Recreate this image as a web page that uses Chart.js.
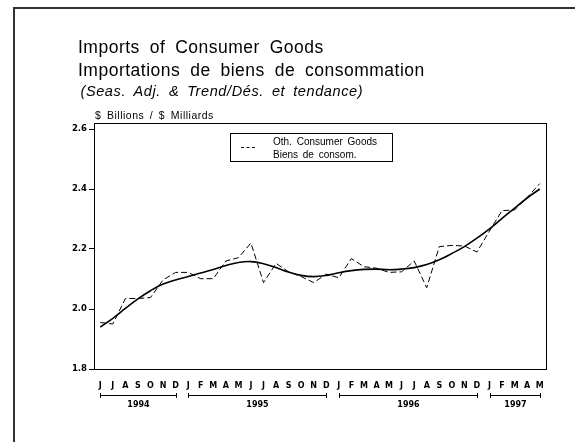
<!DOCTYPE html>
<html>
<head>
<meta charset="utf-8">
<script src="https://cdn.jsdelivr.net/npm/chart.js@4.4.1/dist/chart.umd.min.js"></script>
<style>
  html, body { margin: 0; padding: 0; background: #fff; }
  #wrap { position: relative; width: 575px; height: 442px; overflow: hidden; font-family: "Liberation Sans", Arial, sans-serif; color: #000; }
  #c { position: absolute; left: 0; top: 0; }
  .t { position: absolute; white-space: nowrap; line-height: 1; }
  #t1 { left: 78px; top: 38.5px; font-size: 17.5px; letter-spacing: 0.5px; word-spacing: 4.5px; }
  #t2 { left: 78px; top: 62px; font-size: 17.5px; letter-spacing: 0.5px; word-spacing: 4.5px; }
  #t3 { left: 80.5px; top: 83.5px; font-size: 14.5px; font-style: italic; letter-spacing: 0.6px; word-spacing: 3.4px; }
  #t4 { left: 95px; top: 109.5px; font-size: 10.5px; letter-spacing: 0.5px; word-spacing: 2.2px; }
  #leg { position: absolute; left: 230px; top: 133px; width: 163px; height: 29px; border: 1px solid #000; background: #fff; box-sizing: border-box; }
  #legline { position: absolute; left: 10px; top: 13px; width: 14px; height: 0; border-top: 1px dashed #000; }
  #leg1 { position: absolute; left: 42px; top: 3px; font-size: 10px; word-spacing: 2px; }
  #leg2 { position: absolute; left: 42px; top: 16px; font-size: 10px; word-spacing: 2px; }
</style>
</head>
<body>
<div id="wrap">
  <canvas id="c" width="575" height="442"></canvas>
  <div class="t" id="t1">Imports of Consumer Goods</div>
  <div class="t" id="t2">Importations de biens de consommation</div>
  <div class="t" id="t3">(Seas. Adj. &amp; Trend/Dés. et tendance)</div>
  <div class="t" id="t4">$ Billions / $ Milliards</div>
  <div id="leg">
    <div id="legline"></div>
    <div class="t" id="leg1">Oth. Consumer Goods</div>
    <div class="t" id="leg2">Biens de consom.</div>
  </div>
</div>
<script>
// ---- data ----
const months = ['J','J','A','S','O','N','D',
                'J','F','M','A','M','J','J','A','S','O','N','D',
                'J','F','M','A','M','J','J','A','S','O','N','D',
                'J','F','M','A','M'];
const years = ['1994','1995','1996','1997'];
const yearStart = [0, 7, 19, 31];
const yearEnd = [6, 18, 30, 35];
const consumerGoods = [1.955,1.950,2.035,2.035,2.038,2.097,2.122,
                       2.122,2.101,2.101,2.160,2.171,2.220,2.088,2.152,2.124,2.108,2.088,2.116,
                       2.104,2.168,2.141,2.136,2.122,2.124,2.160,2.071,2.208,2.212,2.210,2.190,
                       2.260,2.328,2.330,2.372,2.418];
const trend = [1.940,1.969,2.002,2.034,2.061,2.083,2.097,
               2.108,2.120,2.132,2.145,2.155,2.158,2.151,2.138,2.123,2.112,2.108,2.112,
               2.121,2.128,2.132,2.133,2.131,2.133,2.138,2.148,2.164,2.185,2.208,2.236,
               2.267,2.302,2.336,2.370,2.400];
const yTicks = [1.8, 2.0, 2.2, 2.4, 2.6];
const yMin = 1.8, yMax = 2.62;

const TICKFONT = '"DejaVu Sans", sans-serif';

const decor = {
  id: 'decor',
  afterDraw(chart) {
    const ctx = chart.ctx;
    const x = chart.scales.x;
    ctx.save();
    // outer frame
    ctx.strokeStyle = '#333';
    ctx.lineWidth = 2;
    ctx.beginPath();
    ctx.moveTo(14, 442); ctx.lineTo(14, 8); ctx.lineTo(575, 8);
    ctx.stroke();
    // year brackets
    ctx.strokeStyle = '#000';
    ctx.lineWidth = 1;
    ctx.fillStyle = '#000';
    ctx.font = 'bold 8px ' + TICKFONT;
    ctx.textAlign = 'center';
    ctx.textBaseline = 'middle';
    const by = 395.5;
    years.forEach((yr, k) => {
      const a = Math.round(x.getPixelForValue(yearStart[k])) + 0.5;
      const b = Math.round(x.getPixelForValue(yearEnd[k])) + 0.5;
      ctx.beginPath();
      ctx.moveTo(a, by); ctx.lineTo(b, by);
      ctx.moveTo(a, by - 2.5); ctx.lineTo(a, by + 2.5);
      ctx.moveTo(b, by - 2.5); ctx.lineTo(b, by + 2.5);
      ctx.stroke();
      ctx.fillText(yr, (a + b) / 2, 405);
    });
    ctx.restore();
  }
};

new Chart(document.getElementById('c'), {
  type: 'line',
  data: {
    labels: months,
    datasets: [
      { label: 'Oth. Consumer Goods / Biens de consom.', data: consumerGoods,
        borderColor: '#000', borderWidth: 1, borderDash: [6, 3], pointRadius: 0, tension: 0, fill: false },
      { label: 'Trend', data: trend,
        borderColor: '#000', borderWidth: 1.6, pointRadius: 0, tension: 0.4, fill: false }
    ]
  },
  options: {
    responsive: false,
    animation: false,
    devicePixelRatio: 1,
    layout: { padding: { left: 0, top: 123, right: 29, bottom: 0 } },
    plugins: { legend: { display: false }, title: { display: false }, tooltip: { enabled: false } },
    scales: {
      x: {
        type: 'category',
        offset: true,
        grid: { display: false, drawTicks: false },
        border: { display: true, color: '#000', width: 1 },
        ticks: { autoSkip: false, maxRotation: 0, minRotation: 0, padding: 12, color: '#000',
                 font: { family: TICKFONT, size: 8, weight: 'bold' } },
        afterFit(s) { s.height = 73; }
      },
      y: {
        min: yMin, max: yMax,
        grid: { display: true, drawOnChartArea: false, drawTicks: true, tickLength: 5, color: '#000' },
        border: { display: true, color: '#000', width: 1 },
        afterBuildTicks(s) { s.ticks = yTicks.map(v => ({ value: v })); },
        ticks: { padding: 2, color: '#000', callback: v => Number(v).toFixed(1),
                 font: { family: TICKFONT, size: 8.5, weight: 'bold' } },
        afterFit(s) { s.width = 94; }
      },
      y2: {
        position: 'right', min: yMin, max: yMax,
        grid: { display: false }, ticks: { display: false },
        border: { display: true, color: '#000', width: 1 },
        afterFit(s) { s.width = 0; }
      },
      x2: {
        position: 'top', type: 'category', offset: true,
        grid: { display: false }, ticks: { display: false },
        border: { display: true, color: '#000', width: 1 },
        afterFit(s) { s.height = 0; }
      }
    }
  },
  plugins: [decor]
});
</script>
</body>
</html>
